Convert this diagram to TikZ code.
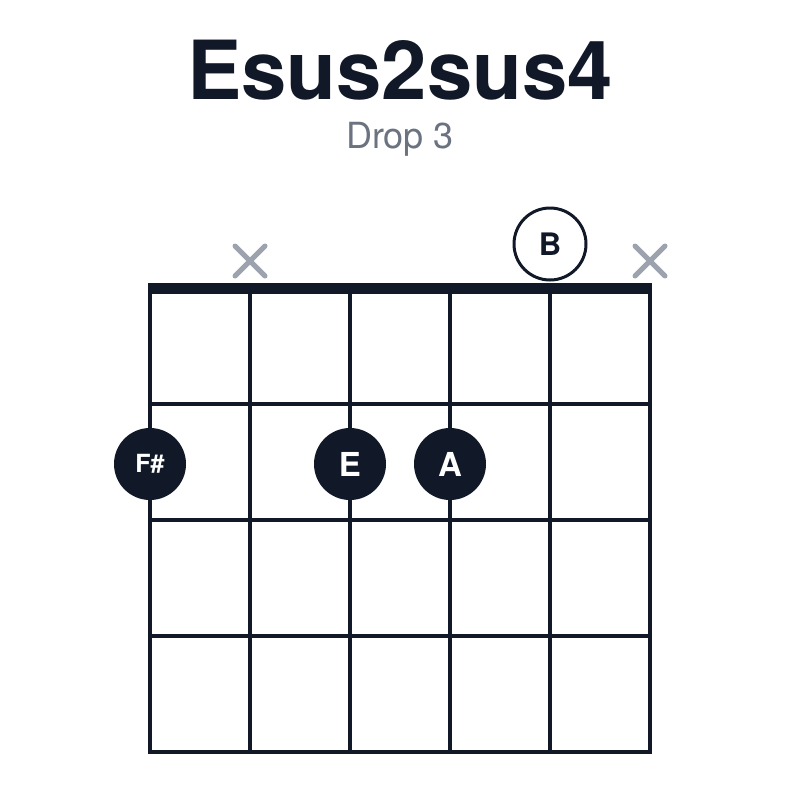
\documentclass[tikz,border=0pt]{standalone}
\usepackage{fontspec}
\setmainfont{TeX Gyre Heros}
\definecolor{ink}{HTML}{111827}
\definecolor{mute}{HTML}{9CA3AF}
\definecolor{sub}{HTML}{6B7280}
\tikzset{
  fretline/.style={draw=ink, line width=3.5pt},
  nutline/.style={draw=ink, line width=11pt},
  fingerdot/.style={circle, fill=ink, minimum size=72pt, inner sep=0pt, text=white, font=\fontsize{33}{33}\selectfont\bfseries},
  opendot/.style={circle, draw=ink, line width=3pt, fill=white, minimum size=72pt, inner sep=0pt, text=ink, font=\fontsize{31}{31}\selectfont\bfseries},
  mutemark/.style={draw=mute, line width=5pt, line cap=round},
}
\begin{document}
\begin{tikzpicture}[x=1pt, y=-1pt]
\useasboundingbox (0,0) rectangle (800,800);
% title
\node[anchor=base, text=ink, font=\fontsize{81.5}{81.5}\selectfont\bfseries, inner sep=0pt] (title) at (400,99) {Esus2sus4};
\node[anchor=base, text=sub, font=\fontsize{36}{36}\selectfont, inner sep=0pt] (subtitle) at (400,148) {Drop 3};
% strings
\foreach \i in {0,...,5} {
  \coordinate (s\i top) at (150+100*\i,288);
  \coordinate (s\i bot) at (150+100*\i,752);
  \draw[fretline] (s\i top) -- (s\i bot);
}
% frets
\foreach \j/\y in {1/404,2/520,3/636,4/752} {
  \coordinate (f\j l) at (148.25,\y);
  \coordinate (f\j r) at (651.75,\y);
  \draw[fretline] (f\j l) -- (f\j r);
}
% nut
\coordinate (nutl) at (148.25,288.5);
\coordinate (nutr) at (651.75,288.5);
\draw[nutline] (nutl) -- (nutr);
% mutes
\foreach \n/\x in {m1/250,m5/650} {
  \coordinate (\n) at (\x,261);
  \draw[mutemark] ([shift={(-15,-15)}]\n) -- ([shift={(15,15)}]\n);
  \draw[mutemark] ([shift={(-15,15)}]\n) -- ([shift={(15,-15)}]\n);
}
% open string
\node[opendot] (openB) at (550,244) {B};
% fingers
\node[fingerdot, font=\fontsize{25}{25}\selectfont\bfseries] (dF) at (150,464) {F\#};
\node[fingerdot] (dE) at (350,464) {E};
\node[fingerdot] (dA) at (450,464) {A};
\end{tikzpicture}
\end{document}
